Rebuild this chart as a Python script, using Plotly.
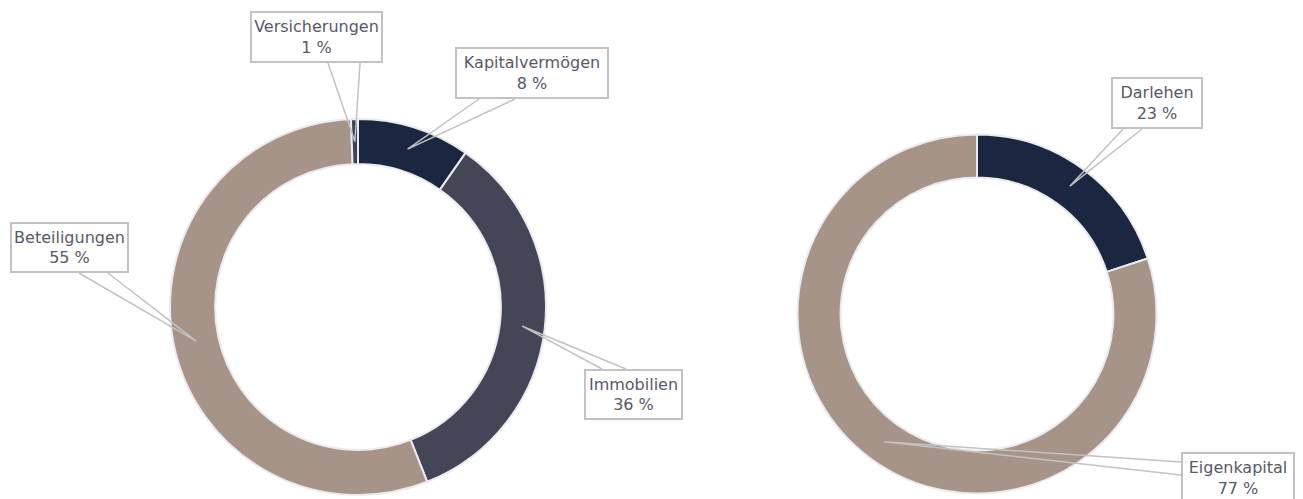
import math
import plotly.graph_objs as go

# ---------- data ----------
# left donut: asset side (shares as drawn, printed percentages from the callouts)
assets_labels = ["Kapitalvermögen", "Immobilien", "Beteiligungen", "Versicherungen"]
assets_shares = [9.7, 34.3, 55.4, 0.6]
assets_printed = [8, 36, 55, 1]
assets_colors = ["#1b2641", "#444557", "#a69489", "#3d4058"]

# right donut: financing side
funding_labels = ["Darlehen", "Eigenkapital"]
funding_shares = [20.0, 80.0]
funding_printed = [23, 77]
funding_colors = ["#1b2641", "#a69489"]

# ---------- layout helpers ----------
W, H = 1303, 499
PAGE_OFFSET = 8  # default body margin of the written page
HOLE = 0.76
TEXT_COLOR = "#58586a"
LINE_COLOR = "#c2c2c2"
FONT = "DejaVu Sans"


def px(x):
    return (x - PAGE_OFFSET) / W


def py(y):
    return 1 - (y - PAGE_OFFSET) / H


def donut(labels, values, colors, cx, cy, r):
    return go.Pie(
        labels=labels,
        values=values,
        marker=dict(colors=colors, line=dict(color="#ebebef", width=2)),
        hole=HOLE,
        sort=False,
        direction="clockwise",
        rotation=0,
        textinfo="none",
        hoverinfo="label+percent",
        showlegend=False,
        domain=dict(x=[px(cx - r), px(cx + r)], y=[py(cy + r), py(cy - r)]),
    )


def slice_tip(values, i, cx, cy, r):
    """Middle of slice i on the ring, in pixels (start at 12 o'clock, clockwise)."""
    total = sum(values)
    mid = (sum(values[:i]) + values[i] / 2) / total
    theta = 2 * math.pi * mid
    rm = r * (1 + HOLE) / 2
    return cx + rm * math.sin(theta), cy - rm * math.cos(theta)


# donut geometry in screen pixels: centre x, centre y, outer radius
LEFT = (358, 307, 188)
RIGHT = (977, 314, 179.5)

# callout boxes (x0, y0, x1, y1) and the two points where the pointer leaves the box
left_boxes = [
    ((455, 47, 609, 99), ((479, 99), (515, 99))),
    ((584, 369, 683, 420), ((602, 369), (626, 369))),
    ((10, 222, 129, 273), ((79, 273), (108, 273))),
    ((250, 11, 383, 63), ((328, 63), (360, 63))),
]
right_boxes = [
    ((1111, 77, 1203, 129), ((1123, 129), (1142, 129))),
    ((1181, 452, 1295, 504), ((1181, 462), (1181, 475))),
]

fig = go.Figure()
fig.add_trace(donut(assets_labels, assets_shares, assets_colors, *LEFT))
fig.add_trace(donut(funding_labels, funding_shares, funding_colors, *RIGHT))

shapes, annotations = [], []
BW, BP = 2, 0
for labels, values, printed, geo, boxes in [
    (assets_labels, assets_shares, assets_printed, LEFT, left_boxes),
    (funding_labels, funding_shares, funding_printed, RIGHT, right_boxes),
]:
    for i, (box, base) in enumerate(boxes):
        tx, ty = slice_tip(values, i, *geo)
        (ax, ay), (bx, by) = base
        shapes.append(dict(
            type="path", xref="paper", yref="paper",
            path=f"M {px(ax)} {py(ay)} L {px(tx)} {py(ty)} L {px(bx)} {py(by)}",
            line=dict(color=LINE_COLOR, width=1.5),
            fillcolor="rgba(0,0,0,0)",
        ))
        x0, y0, x1, y1 = box
        annotations.append(dict(
            xref="paper", yref="paper",
            x=px((x0 + x1) / 2), y=py((y0 + y1) / 2),
            xanchor="center", yanchor="middle",
            text=f"{labels[i]}<br>{printed[i]} %",
            showarrow=False,
            align="center",
            width=(x1 - x0) - 2 * (BW + BP),
            height=(y1 - y0) - 2 * (BW + BP),
            bgcolor="white",
            bordercolor=LINE_COLOR,
            borderwidth=BW,
            borderpad=BP,
            font=dict(family=FONT, size=16, color=TEXT_COLOR),
        ))

fig.update_layout(
    width=W,
    height=H,
    margin=dict(l=0, r=0, t=0, b=0),
    paper_bgcolor="white",
    plot_bgcolor="white",
    shapes=shapes,
    annotations=annotations,
    font=dict(family=FONT),
)

fig.write_html("out.html")
